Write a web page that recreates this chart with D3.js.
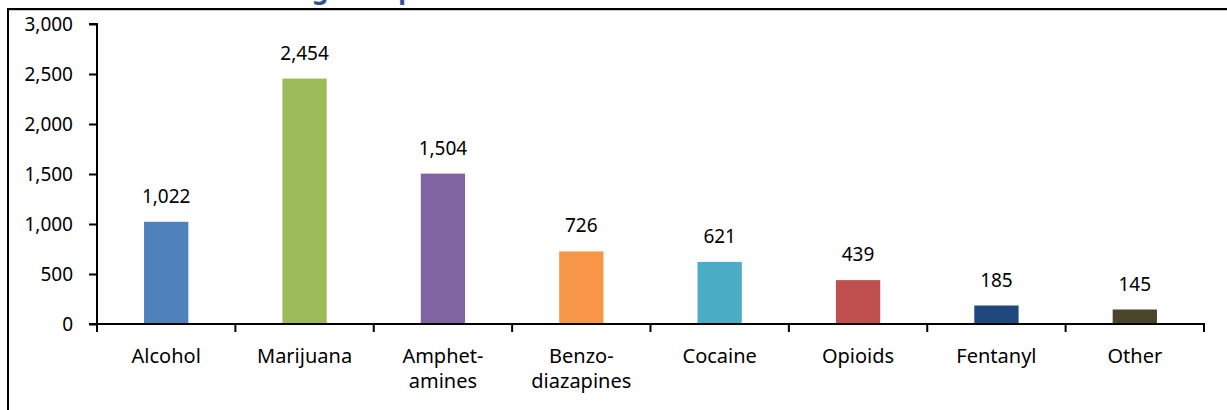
<!DOCTYPE html>
<html>
<head>
<meta charset="utf-8">
<script src="https://cdn.jsdelivr.net/npm/d3@7/dist/d3.min.js"></script>
<style>
  html, body { margin: 0; padding: 0; background: #fff; }
  svg { display: block; }
  text { font-family: "Noto Sans", "Open Sans", sans-serif; }
</style>
</head>
<body>
<svg id="chart" width="1227" height="410"></svg>
<script>
const categories = ["Alcohol", "Marijuana", "Amphet-\namines", "Benzo-\ndiazapines", "Cocaine", "Opioids", "Fentanyl", "Other"];
const values = [1022, 2454, 1504, 726, 621, 439, 185, 145];
const barColors = ["#4F81BD", "#9BBB59", "#8064A2", "#F79646", "#4BACC6", "#C0504D", "#1F497D", "#4A452A"];
const yTicks = [0, 500, 1000, 1500, 2000, 2500, 3000];
const titleText = "Drug Groups";

const svg = d3.select("#chart");
const W = 1227, H = 410;
const FONT = "'Noto Sans', 'Open Sans', sans-serif";

// frame
svg.append("line").attr("x1", 8).attr("x2", W).attr("y1", 10.5).attr("y2", 10.5)
  .attr("stroke", "#ccc").attr("stroke-width", 1);
svg.append("line").attr("x1", 7).attr("x2", W).attr("y1", 9).attr("y2", 9)
  .attr("stroke", "#000").attr("stroke-width", 2);
svg.append("line").attr("x1", 8).attr("x2", 8).attr("y1", 8).attr("y2", H)
  .attr("stroke", "#000").attr("stroke-width", 2);

// clipped title (only descenders visible above frame, as in the reference)
const clip = svg.append("defs").append("clipPath").attr("id", "tclip");
clip.append("rect").attr("x", 0).attr("y", 0).attr("width", W).attr("height", 8);
const title = svg.append("text").attr("clip-path", "url(#tclip)")
  .attr("y", -1).attr("font-size", 26).attr("font-weight", "bold")
  .attr("font-family", "Lato, sans-serif")
  .attr("fill", "#2F5597").text(titleText);
try {
  const gx = title.node().getStartPositionOfChar(3).x;
  title.attr("x", 312 - gx);
} catch (e) { title.attr("x", 250); }

const x0 = 97, x1 = 1204, yTop = 24, yBot = 324;
const x = d3.scaleBand().domain(categories).range([x0, x1]).paddingInner(0.68).paddingOuter(0.34);
const y = d3.scaleLinear().domain([0, 3000]).range([yBot, yTop]);

// y axis
const yAxis = d3.axisLeft(y).tickValues(yTicks).tickSize(8).tickPadding(16)
  .tickFormat(d3.format(","));
const gy = svg.append("g").attr("transform", `translate(${x0},0)`).call(yAxis);
gy.select(".domain").attr("stroke", "#000").attr("stroke-width", 2).attr("d", `M-8,${yTop}H0V${yBot}`);
gy.selectAll(".tick line").attr("stroke", "#000").attr("stroke-width", 2);
gy.selectAll(".tick text").attr("font-size", 19).attr("fill", "#000")
  .attr("font-family", FONT);

// bars
svg.append("g").selectAll("rect").data(values).join("rect")
  .attr("x", (d, i) => x(categories[i]))
  .attr("width", x.bandwidth())
  .attr("y", d => y(d))
  .attr("height", d => y(0) - y(d))
  .attr("fill", (d, i) => barColors[i]);

// value labels
svg.append("g").selectAll("text").data(values).join("text")
  .attr("x", (d, i) => x(categories[i]) + x.bandwidth() / 2)
  .attr("y", d => y(d) - 19)
  .attr("text-anchor", "middle").attr("font-size", 19).attr("fill", "#000")
  .text(d => d3.format(",")(d));

// x axis
const boundaries = d3.range(categories.length + 1).map(i => x0 + i * (x1 - x0) / categories.length);
const gx = svg.append("g");
gx.append("line").attr("x1", x0 - 8).attr("x2", x1 + 1).attr("y1", yBot).attr("y2", yBot)
  .attr("stroke", "#000").attr("stroke-width", 2);
gx.selectAll("line.tk").data(boundaries).join("line").attr("class", "tk")
  .attr("x1", d => d).attr("x2", d => d).attr("y1", yBot).attr("y2", yBot + 8)
  .attr("stroke", "#000").attr("stroke-width", 2);

const lineData = [];
categories.forEach(c => c.split("\n").forEach((p, i) => lineData.push({ c, p, i })));
gx.selectAll("text").data(lineData).join("text")
  .attr("x", d => x(d.c) + x.bandwidth() / 2)
  .attr("y", d => 363 + d.i * 25)
  .attr("text-anchor", "middle").attr("font-size", 20).attr("fill", "#000")
  .text(d => d.p);
</script>
</body>
</html>
